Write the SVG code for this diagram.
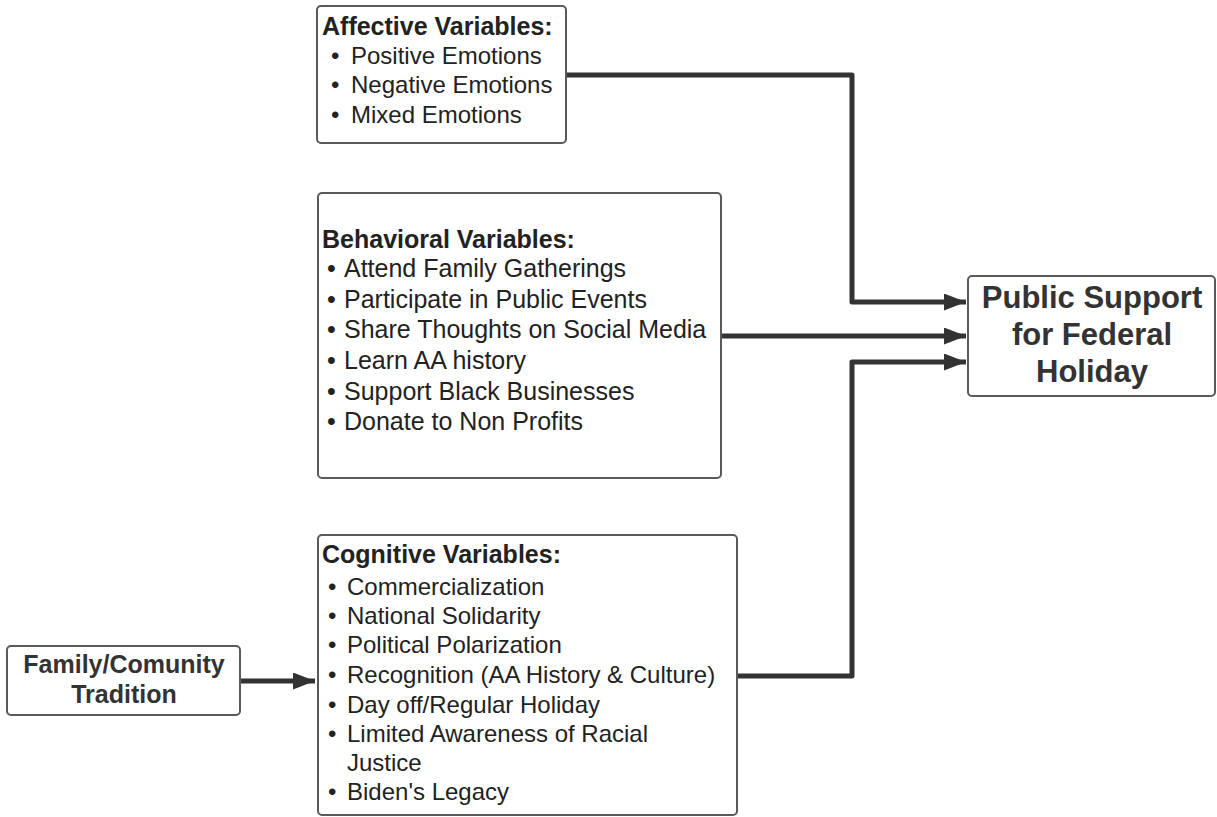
<svg xmlns="http://www.w3.org/2000/svg" width="1217" height="817" viewBox="0 0 1217 817">
<defs>
<marker id="ah" viewBox="0 0 22 17" refX="22" refY="8.5" markerWidth="22" markerHeight="17" markerUnits="userSpaceOnUse" orient="auto">
<path d="M0,0 L22,8.5 L0,17 Z" fill="#333"/>
</marker>
<style>
.box{fill:#fff;stroke:#5a5a5a;stroke-width:2}
.t{font-family:"Liberation Sans",Arial,sans-serif;fill:#222}
.h{font-size:25px;font-weight:bold}
.i{font-size:24px}
.b{font-size:25px}
.c{font-family:"Liberation Sans",Arial,sans-serif;font-weight:bold;fill:#333;text-anchor:middle}
.ln{fill:none;stroke:#333;stroke-width:5;stroke-linejoin:round}
</style>
</defs>
<rect width="1217" height="817" fill="#fff"/>
<g id="connectors">
<path class="ln" d="M566,75 H852 V302 H966" marker-end="url(#ah)"/>
<path class="ln" d="M720,336 H966" marker-end="url(#ah)"/>
<path class="ln" d="M737,676 H852 V362 H966" marker-end="url(#ah)"/>
<path class="ln" d="M240,681 H315" marker-end="url(#ah)"/>
</g>
<g id="affective">
<rect class="box" x="317" y="6" width="249" height="137" rx="4"/>
<text class="t h" x="322" y="35">Affective Variables:</text>
<text class="t i" x="331" y="64">•</text><text class="t i" x="351" y="64">Positive Emotions</text>
<text class="t i" x="331" y="93">•</text><text class="t i" x="351" y="93">Negative Emotions</text>
<text class="t i" x="331" y="123">•</text><text class="t i" x="351" y="123">Mixed Emotions</text>
</g>
<g id="behavioral">
<rect class="box" x="318" y="193" width="403" height="285" rx="4"/>
<text class="t h" x="322" y="248">Behavioral Variables:</text>
<text class="t b" x="327" y="277">•</text><text class="t b" x="344" y="277">Attend Family Gatherings</text>
<text class="t b" x="327" y="308">•</text><text class="t b" x="344" y="308">Participate in Public Events</text>
<text class="t b" x="327" y="338">•</text><text class="t b" x="344" y="338">Share Thoughts on Social Media</text>
<text class="t b" x="327" y="369">•</text><text class="t b" x="344" y="369">Learn AA history</text>
<text class="t b" x="327" y="400">•</text><text class="t b" x="344" y="400">Support Black Businesses</text>
<text class="t b" x="327" y="430">•</text><text class="t b" x="344" y="430">Donate to Non Profits</text>
</g>
<g id="cognitive">
<rect class="box" x="318" y="535" width="419" height="280" rx="4"/>
<text class="t h" x="322" y="563" font-size="26">Cognitive Variables:</text>
<text class="t i" x="328" y="595">•</text><text class="t i" x="347" y="595">Commercialization</text>
<text class="t i" x="328" y="624">•</text><text class="t i" x="347" y="624">National Solidarity</text>
<text class="t i" x="328" y="653">•</text><text class="t i" x="347" y="653">Political Polarization</text>
<text class="t i" x="328" y="683">•</text><text class="t i" x="347" y="683">Recognition (AA History &amp; Culture)</text>
<text class="t i" x="328" y="713">•</text><text class="t i" x="347" y="713">Day off/Regular Holiday</text>
<text class="t i" x="328" y="742">•</text><text class="t i" x="347" y="742">Limited Awareness of Racial</text>
<text class="t i" x="347" y="771">Justice</text>
<text class="t i" x="328" y="800">•</text><text class="t i" x="347" y="800">Biden's Legacy</text>
</g>
<g id="family">
<rect class="box" x="7" y="646" width="233" height="69" rx="4"/>
<text class="c" x="124" y="673" font-size="25">Family/Comunity</text>
<text class="c" x="124" y="703" font-size="25">Tradition</text>
</g>
<g id="public">
<rect class="box" x="968" y="276" width="247" height="120" rx="4"/>
<text class="c" x="1092" y="308" font-size="31">Public Support</text>
<text class="c" x="1092" y="345" font-size="31">for Federal</text>
<text class="c" x="1092" y="382" font-size="31">Holiday</text>
</g>
</svg>
